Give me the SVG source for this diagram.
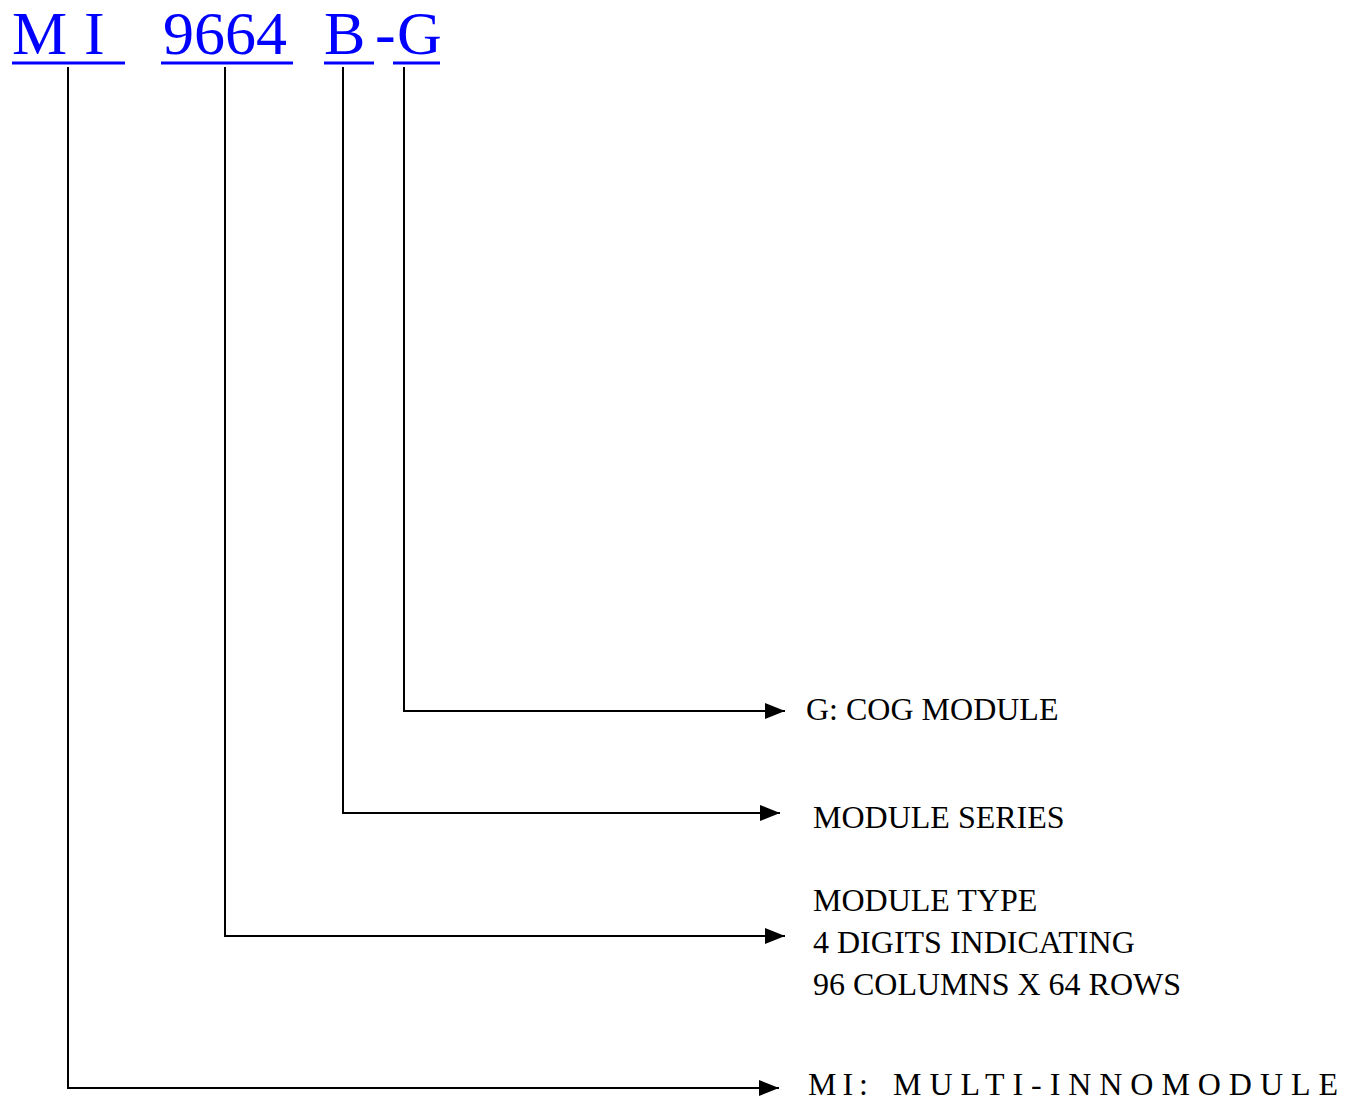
<svg xmlns="http://www.w3.org/2000/svg" width="1359" height="1102" viewBox="0 0 1359 1102">
<style>
.code{font-family:"Liberation Serif","Times New Roman",serif;font-size:62px;fill:#0000FF}
.lbl{font-family:"Liberation Serif","Times New Roman",serif;font-size:32px;fill:#000}
.ul{fill:#0000FF}
.conn{stroke:#000;stroke-width:2;fill:none}
</style>
<defs>
<marker id="arr" markerWidth="20" markerHeight="16" refX="20" refY="8" orient="auto" markerUnits="userSpaceOnUse">
<path d="M0,0 L20,8 L0,16 Z" fill="#000"/>
</marker>
</defs>
<rect width="1359" height="1102" fill="#fff"/>
<g id="code">
<text class="code" x="12" y="54">M</text>
<text class="code" x="84" y="54">I</text>
<rect class="ul" x="12" y="61.5" width="113" height="3"/>
<text class="code" x="163" y="54">9664</text>
<rect class="ul" x="161" y="61.5" width="132" height="3"/>
<text class="code" x="324" y="54">B</text>
<rect class="ul" x="324" y="61.5" width="50" height="3"/>
<text class="code" x="375" y="54">-</text>
<text class="code" x="397" y="54">G</text>
<rect class="ul" x="393" y="61.5" width="47" height="3"/>
</g>
<g id="connectors">
<path class="conn" d="M404,67 V711 H785" marker-end="url(#arr)"/>
<path class="conn" d="M343,67 V813 H780" marker-end="url(#arr)"/>
<path class="conn" d="M225,67 V936 H785" marker-end="url(#arr)"/>
<path class="conn" d="M68,67 V1088 H779" marker-end="url(#arr)"/>
</g>
<g id="label-g">
<text class="lbl" x="806" y="720">G: COG MODULE</text>
</g>
<g id="label-series">
<text class="lbl" x="813" y="828">MODULE SERIES</text>
</g>
<g id="label-type">
<text class="lbl" x="813" y="911">MODULE TYPE</text>
<text class="lbl" x="813" y="953">4 DIGITS INDICATING</text>
<text class="lbl" x="813" y="995">96 COLUMNS X 64 ROWS</text>
</g>
<g id="label-mi">
<text class="lbl" x="808" y="1095" font-size="29" letter-spacing="6">MI:</text>
<text class="lbl" x="893" y="1095" font-size="29" textLength="445" lengthAdjust="spacing">MULTI-INNOMODULE</text>
</g>
</svg>
